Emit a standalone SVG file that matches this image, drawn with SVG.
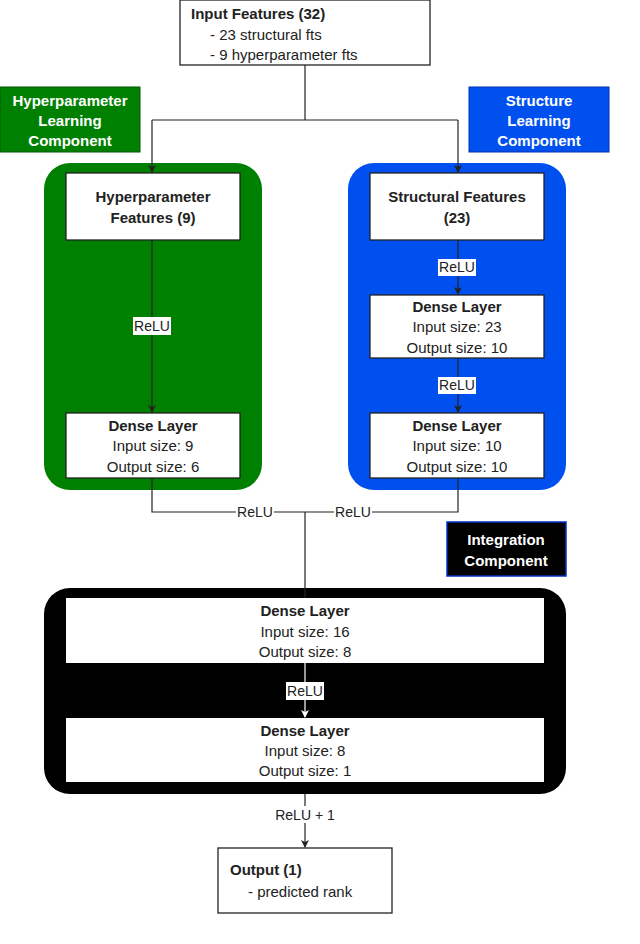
<svg xmlns="http://www.w3.org/2000/svg" width="640" height="944" viewBox="0 0 640 944">
<style>
text{font-family:"Liberation Sans",Arial,sans-serif;font-size:15px;fill:#222}
.b{font-weight:bold}
.w{fill:#fff;font-weight:bold;font-size:15px}
.box{fill:#fff;stroke:#222;stroke-width:1.3}
.ln{fill:none;stroke:#222;stroke-width:1.2}
.c{text-anchor:middle}
.s{font-size:14px}
</style>
<defs><marker id="a" markerWidth="8" markerHeight="8" refX="7" refY="4" orient="auto" markerUnits="userSpaceOnUse"><path d="M0,0 L8,4 L0,8 L2,4z" fill="#222"/></marker>
<marker id="aw" markerWidth="8" markerHeight="8" refX="7" refY="4" orient="auto" markerUnits="userSpaceOnUse"><path d="M0,0 L8,4 L0,8 L2,4z" fill="#fff"/></marker></defs>
<rect width="640" height="944" fill="#fff"/>
<g id="hyperLabel"><rect x="0" y="87" width="140" height="65" fill="#008000" stroke="#005700"/><text class="w c" x="70" y="106">Hyperparameter</text><text class="w c" x="70" y="126">Learning</text><text class="w c" x="70" y="146">Component</text></g>
<g id="structLabel"><rect x="469" y="87" width="140" height="65" fill="#0050ef" stroke="#0030b0"/><text class="w c" x="539" y="106">Structure</text><text class="w c" x="539" y="126">Learning</text><text class="w c" x="539" y="146">Component</text></g>
<g id="integLabel"><rect x="447" y="522" width="119" height="54" fill="#000" stroke="#0030c0" stroke-width="1.5"/><text class="w c" x="506" y="545">Integration</text><text class="w c" x="506" y="566">Component</text></g>
<g id="greenC"><rect x="44" y="163" width="218" height="327" rx="26" fill="#008000"/></g>
<g id="blueC"><rect x="348" y="163" width="218" height="327" rx="26" fill="#0050ef"/></g>
<g id="blackC"><rect x="44" y="588" width="522" height="206" rx="26" fill="#000"/></g>
<g id="input"><rect class="box" x="180" y="0" width="250" height="65"/><text class="b" x="191" y="19">Input Features (32)</text><text x="210" y="40">- 23 structural fts</text><text x="210" y="60">- 9 hyperparameter fts</text></g>
<g id="hypFeat"><rect class="box" x="66" y="173" width="174" height="67"/><text class="b c" x="153" y="202">Hyperparameter</text><text class="b c" x="153" y="223">Features (9)</text></g>
<g id="hypDense"><rect class="box" x="66" y="413" width="174" height="65"/><text class="b c" x="153" y="431">Dense Layer</text><text class="c" x="153" y="451">Input size: 9</text><text class="c" x="153" y="472">Output size: 6</text></g>
<g id="strFeat"><rect class="box" x="370" y="173" width="174" height="67"/><text class="b c" x="457" y="202">Structural Features</text><text class="b c" x="457" y="223">(23)</text></g>
<g id="strDense1"><rect class="box" x="370" y="295" width="174" height="63"/><text class="b c" x="457" y="312">Dense Layer</text><text class="c" x="457" y="332">Input size: 23</text><text class="c" x="457" y="353">Output size: 10</text></g>
<g id="strDense2"><rect class="box" x="370" y="413" width="174" height="65"/><text class="b c" x="457" y="431">Dense Layer</text><text class="c" x="457" y="451">Input size: 10</text><text class="c" x="457" y="472">Output size: 10</text></g>
<g id="intDense1"><rect x="66" y="598" width="478" height="65" fill="#fff"/><text class="b c" x="305" y="616">Dense Layer</text><text class="c" x="305" y="637">Input size: 16</text><text class="c" x="305" y="657">Output size: 8</text></g>
<g id="intDense2"><rect x="66" y="718" width="478" height="64" fill="#fff"/><text class="b c" x="305" y="736">Dense Layer</text><text class="c" x="305" y="756">Input size: 8</text><text class="c" x="305" y="776">Output size: 1</text></g>
<g id="output"><rect class="box" x="218" y="848" width="174" height="65"/><text class="b" x="230" y="875">Output (1)</text><text x="248" y="897">- predicted rank</text></g>
<g id="connectors">
<path class="ln" d="M305,65 V120 M152,120 H458"/>
<path class="ln" d="M152,120 V172" marker-end="url(#a)"/>
<path class="ln" d="M458,120 V172" marker-end="url(#a)"/>
<path class="ln" d="M152,240 V412" marker-end="url(#a)"/>
<rect x="133" y="317" width="38" height="18" fill="#fff"/><text class="c s" x="152" y="331">ReLU</text>
<path class="ln" d="M458,240 V294" marker-end="url(#a)"/>
<rect x="438" y="259" width="38" height="17" fill="#fff"/><text class="c s" x="457" y="272">ReLU</text>
<path class="ln" d="M458,358 V412" marker-end="url(#a)"/>
<rect x="438" y="377" width="38" height="17" fill="#fff"/><text class="c s" x="457" y="390">ReLU</text>
<path class="ln" d="M152,478 V512 H458 V478 M305,512 V598"/>
<rect x="236" y="504" width="38" height="16" fill="#fff"/><text class="c s" x="255" y="517">ReLU</text>
<rect x="334" y="504" width="38" height="16" fill="#fff"/><text class="c s" x="353" y="517">ReLU</text>
<path d="M305,663 V717" stroke="#fff" stroke-width="1.2" marker-end="url(#aw)"/>
<rect x="286" y="682" width="38" height="18" fill="#fff"/><text class="c s" x="305" y="696">ReLU</text>
<path class="ln" d="M305,794 V847" marker-end="url(#a)"/>
<rect x="270" y="806" width="70" height="17" fill="#fff"/><text class="c s" x="305" y="820">ReLU + 1</text>
</g>
</svg>
